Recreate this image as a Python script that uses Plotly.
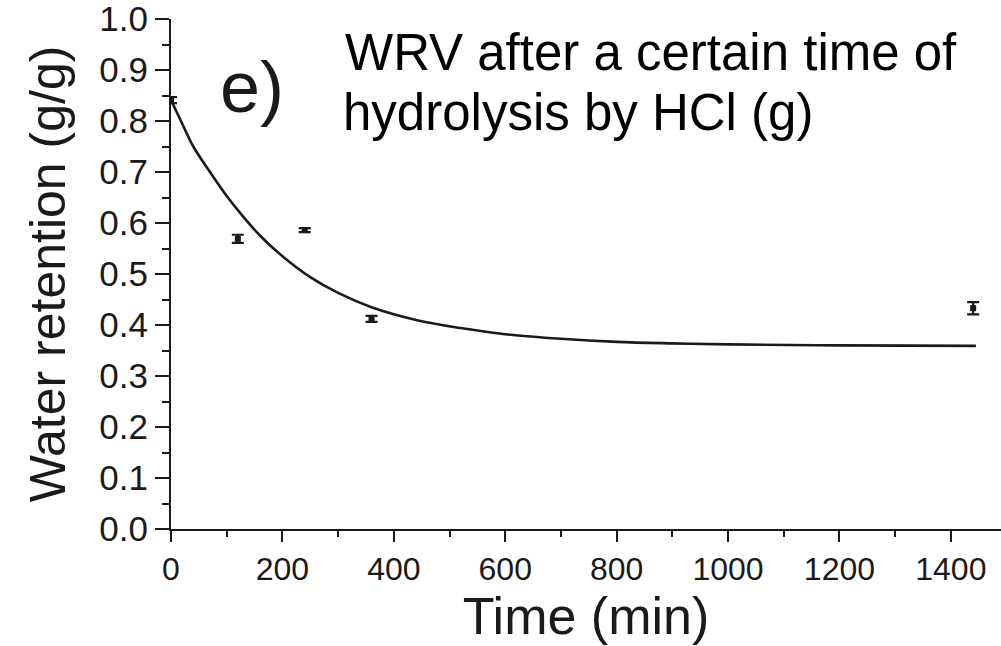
import plotly.graph_objects as go

# Measured data (time in min, water retention in g/g)
time_min = [0, 120, 240, 360, 1440]
wrv = [0.841, 0.569, 0.586, 0.412, 0.433]
wrv_err = [0.006, 0.008, 0.004, 0.006, 0.012]

# Fitted decay curve
fit_time = [0, 20, 40, 70, 100, 130, 160, 200, 250, 300, 360, 440, 520, 600,
            700, 800, 900, 1000, 1200, 1445]
fit_wrv = [0.841, 0.795, 0.750, 0.700, 0.653, 0.612, 0.575, 0.535, 0.494, 0.463,
           0.435, 0.410, 0.394, 0.382, 0.373, 0.367, 0.364, 0.362, 0.360, 0.359]

x_ticks = [0, 200, 400, 600, 800, 1000, 1200, 1400]
y_ticks = [0.0, 0.1, 0.2, 0.3, 0.4, 0.5, 0.6, 0.7, 0.8, 0.9, 1.0]

FONT = "Arial, Liberation Sans, Helvetica, sans-serif"
INK = "#1a1a1a"

fig = go.Figure()
fig.add_trace(go.Scatter(
    x=fit_time, y=fit_wrv, mode="lines",
    line=dict(color=INK, width=2.6, shape="spline", smoothing=1.0),
    hoverinfo="skip", showlegend=False,
))
fig.add_trace(go.Scatter(
    x=time_min, y=wrv, mode="markers",
    marker=dict(symbol="square", size=6, color=INK),
    error_y=dict(type="data", array=wrv_err, visible=True, color=INK, thickness=2.2, width=6),
    showlegend=False,
))

fig.update_layout(
    width=1001, height=646,
    margin=dict(l=171, r=0, t=19, b=117),
    paper_bgcolor="white", plot_bgcolor="white",
    font=dict(family=FONT, color=INK),
    xaxis=dict(
        range=[0, 1490], tickmode="array", tickvals=x_ticks,
        ticktext=[str(v) for v in x_ticks],
        showgrid=False, zeroline=False, showline=True, linecolor=INK, linewidth=2,
        ticks="outside", ticklen=11, tickwidth=2, tickcolor=INK,
        minor=dict(dtick=100, ticklen=6, tickwidth=2, tickcolor=INK, ticks="outside", showgrid=False),
        tickfont=dict(size=32, family=FONT, color=INK),
        ticklabeloverflow="allow",
        title=dict(text="Time (min)", font=dict(size=52, family=FONT, color=INK), standoff=4),
    ),
    yaxis=dict(
        range=[0, 1.0], tickmode="array", tickvals=y_ticks,
        ticktext=[f"{v:.1f}" for v in y_ticks],
        showgrid=False, zeroline=False, showline=True, linecolor=INK, linewidth=2,
        ticks="outside", ticklen=14, tickwidth=2, tickcolor=INK,
        minor=dict(dtick=0.05, ticklen=7, tickwidth=2, tickcolor=INK, ticks="outside", showgrid=False),
        tickfont=dict(size=35, family=FONT, color=INK),
        ticklabeloverflow="allow",
        title=dict(text="Water retention (g/g)", font=dict(size=50, family=FONT, color=INK), standoff=18),
    ),
    annotations=[
        dict(text="e)", xref="paper", yref="paper", x=(252 - 171) / 830, y=(529 - 87) / 510,
             xanchor="center", yanchor="middle", showarrow=False,
             font=dict(size=72, family=FONT, color=INK)),
        dict(text="WRV after a certain time of", xref="paper", yref="paper",
             x=(343 - 171) / 830, y=(529 - 52.5) / 510, xanchor="left", yanchor="middle",
             showarrow=False, font=dict(size=51, family=FONT, color="black")),
        dict(text="hydrolysis by HCl (g)", xref="paper", yref="paper",
             x=(341 - 171) / 830, y=(529 - 112) / 510, xanchor="left", yanchor="middle",
             showarrow=False, font=dict(size=51, family=FONT, color="black")),
    ],
)

fig.write_html("out.html")
